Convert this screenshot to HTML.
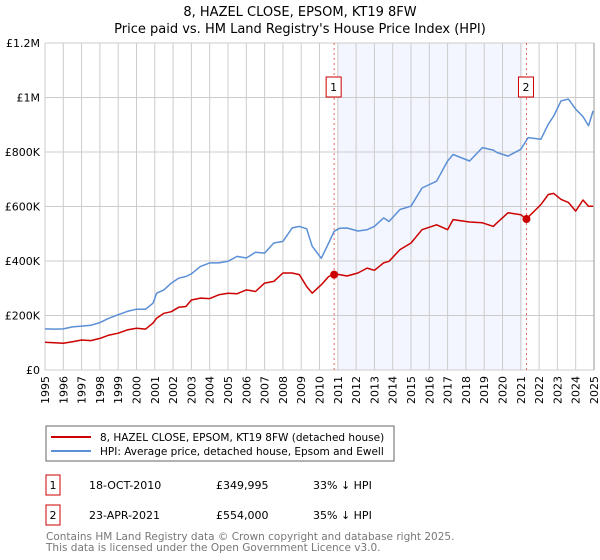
<!DOCTYPE html>
<html><head><meta charset="utf-8"><style>
body{margin:0;width:600px;height:560px;background:#fff;font-family:"Liberation Sans","DejaVu Sans",sans-serif;overflow:hidden}
svg{position:absolute;left:0;top:0}
</style></head><body>
<svg width="600" height="560" font-family="DejaVu Sans, Liberation Sans, sans-serif">
<text x="300" y="16" text-anchor="middle" font-size="13">8, HAZEL CLOSE, EPSOM, KT19 8FW</text>
<text x="300" y="33" text-anchor="middle" font-size="13">Price paid vs. HM Land Registry's House Price Index (HPI)</text>
<g id="plot"></g>
<rect x="46" y="426" width="348" height="35" fill="#fff" stroke="#666"/>
<line x1="51" y1="437" x2="91" y2="437" stroke="#cc0000" stroke-width="2"/>
<text x="100" y="441" font-size="10.5">8, HAZEL CLOSE, EPSOM, KT19 8FW (detached house)</text>
<line x1="51" y1="451" x2="91" y2="451" stroke="#5b8fd6" stroke-width="2"/>
<text x="100" y="455" font-size="10.5">HPI: Average price, detached house, Epsom and Ewell</text>
<g font-size="11">
<rect x="46" y="475" width="14" height="20" fill="#fff" stroke="#cc0000"/>
<text x="53" y="489" text-anchor="middle">1</text>
<text x="89" y="489">18-OCT-2010</text>
<text x="216" y="489">£349,995</text>
<text x="313" y="489">33% ↓ HPI</text>
<rect x="46" y="505" width="14" height="20" fill="#fff" stroke="#cc0000"/>
<text x="53" y="519" text-anchor="middle">2</text>
<text x="89" y="519">23-APR-2021</text>
<text x="216" y="519">£554,000</text>
<text x="313" y="519">35% ↓ HPI</text>
</g>
<text x="46" y="540" font-size="10.5" fill="#777">Contains HM Land Registry data © Crown copyright and database right 2025.</text>
<text x="46" y="551" font-size="10.5" fill="#777">This data is licensed under the Open Government Licence v3.0.</text>
</svg>
<script>
const hpiYears=[1995,1995.5,1996,1996.5,1997,1997.5,1998,1998.5,1999,1999.5,2000,2000.5,2000.9,2001.1,2001.5,2001.9,2002.3,2002.7,2003,2003.5,2004,2004.5,2005,2005.5,2006,2006.5,2007,2007.5,2008,2008.5,2008.9,2009.3,2009.6,2010.1,2010.5,2010.8,2011.1,2011.5,2012.1,2012.6,2013,2013.5,2013.8,2014.4,2015,2015.6,2016.4,2017,2017.3,2018.2,2018.9,2019.5,2019.7,2020.3,2021,2021.4,2022.1,2022.5,2022.8,2023.2,2023.6,2024,2024.4,2024.7,2024.95];
const hpiValues=[151,150,151,158,161,164,174,190,203,215,223,223,245,282,294,319,337,343,353,380,393,393,399,417,411,432,429,466,472,521,527,518,454,410,466,509,520,521,510,515,527,558,545,589,601,668,693,767,791,767,816,807,798,785,810,853,847,902,932,988,994,957,930,896,951,920];
const priceYears=[1995,1995.5,1996,1996.5,1997,1997.5,1998,1998.5,1999,1999.5,2000,2000.5,2000.9,2001.1,2001.5,2001.9,2002.3,2002.7,2003,2003.5,2004,2004.5,2005,2005.5,2006,2006.5,2007,2007.5,2008,2008.5,2008.9,2009.3,2009.6,2010.1,2010.5,2010.8,2011.1,2011.5,2012.1,2012.6,2013,2013.5,2013.8,2014.4,2015,2015.6,2016.4,2017,2017.3,2018.2,2018.9,2019.5,2019.7,2020.3,2021,2021.3,2022.1,2022.5,2022.8,2023.2,2023.6,2024,2024.4,2024.7,2024.95];
const priceValues=[102,100,98,104,110,108,116,128,135,147,153,150,172,190,208,214,230,233,257,264,262,276,282,280,294,288,319,325,356,356,350,306,282,313,343,352,350,345,356,374,366,393,399,442,466,515,533,515,552,543,540,527,540,577,570,554,607,644,648,626,615,583,624,601,601];
const tickYears=[];for(let y=1995;y<=2025;y++)tickYears.push(y);
const yTicks=[0,200,400,600,800,1000,1200];
const yTickLabels=["£0","£200K","£400K","£600K","£800K","£1M","£1.2M"];
const sales=[{label:"1",year:2010.8,value:349.995},{label:"2",year:2021.31,value:554}];
const shadeRange=[2011.0,2021.1];

const X0=45,X1=594,Y0=370,Y1=43;
const xs=y=>X0+(y-1995)/30*(X1-X0);
const ys=v=>Y0-v/1200*(Y0-Y1);
const NS="http://www.w3.org/2000/svg";
const g=document.getElementById('plot');
function mk(t,a,p){const e=document.createElementNS(NS,t);for(const k in a)e.setAttribute(k,a[k]);(p||g).appendChild(e);return e;}

const shade=mk('rect',{x:xs(shadeRange[0]),y:Y1,width:xs(shadeRange[1])-xs(shadeRange[0]),height:Y0-Y1,fill:'#f3f6fe'});


tickYears.forEach(y=>{
 const l=mk('line',{x1:xs(y),x2:xs(y),y1:Y1,y2:Y0,stroke:'#cccccc','stroke-width':1});
 
 
 const t=mk('text',{x:0,y:0,'font-size':11,'text-anchor':'end',transform:`translate(${xs(y)+4},${Y0+6}) rotate(-90)`});
 t.textContent=y;
 
 
});
yTicks.forEach((v,i)=>{
 const l=mk('line',{x1:X0,x2:X1,y1:ys(v),y2:ys(v),stroke:'#cccccc','stroke-width':1});
 
 
 const t=mk('text',{x:40,y:ys(v)+4,'font-size':11,'text-anchor':'end'});
 t.textContent=yTickLabels[i];
 
 
});
const border=mk('line',{x1:X1,x2:X1,y1:Y1,y2:Y0,stroke:'#999','stroke-width':1});


sales.forEach(s=>{
 const l=mk('line',{x1:xs(s.year),x2:xs(s.year),y1:Y1,y2:Y0,stroke:'#e06666','stroke-width':1,'stroke-dasharray':'2,3'});
 
 
});
function path(xsA,vs,col,name){
 const d=xsA.map((y,i)=>(i?'L':'M')+xs(y).toFixed(1)+','+ys(vs[i]).toFixed(1)).join('');
 const p=mk('path',{d:d,fill:'none',stroke:col,'stroke-width':1.5,'stroke-linejoin':'round'});
 
 
}
path(hpiYears,hpiValues,'#5b8fd6','hpi-line');
path(priceYears,priceValues,'#cc0000','price-line');
sales.forEach(s=>{
 const c=mk('circle',{cx:xs(s.year),cy:ys(s.value),r:4,fill:'#cc0000'});
 
 
 const r=mk('rect',{x:xs(s.year)-8,y:77,width:15,height:20,fill:'#fff',stroke:'#cc0000'});
 
 
 const t=mk('text',{x:xs(s.year)-0.5,y:91,'font-size':11,'text-anchor':'middle'});
 t.textContent=s.label;
 
 
});
</script>
</body></html>
